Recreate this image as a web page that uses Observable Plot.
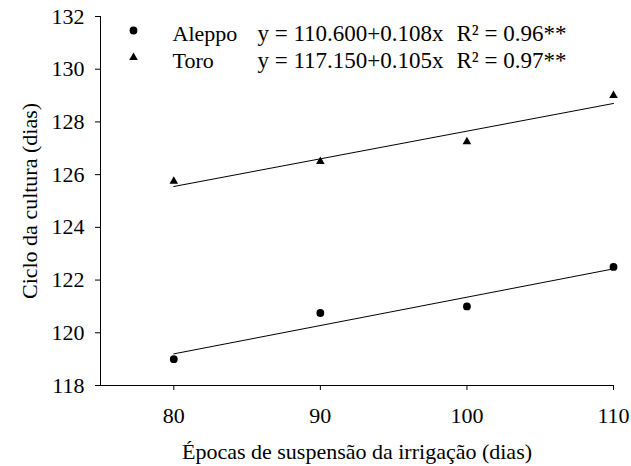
<!DOCTYPE html>
<html><head><meta charset="utf-8">
<script src="https://cdn.jsdelivr.net/npm/d3@7"></script>
<script src="https://cdn.jsdelivr.net/npm/@observablehq/plot@0.6"></script>
<style>
body{margin:0;background:#fff}
</style>
</head><body><div id="chart"></div>
<script>
const epocas = [80, 90, 100, 110];
const aleppo = [119.0, 120.75, 121.0, 122.5];
const toro = [125.75, 126.5, 127.25, 129.0];
const cultivares = ["Aleppo", "Toro"];
const equacoes = ["y = 110.600+0.108x", "y = 117.150+0.105x"];
const r2Labels = ["R² = 0.96**", "R² = 0.97**"];
const xTicks = [80, 90, 100, 110];
const yTicks = [118, 120, 122, 124, 126, 128, 130, 132];
const xLabel = "Épocas de suspensão da irrigação (dias)";
const yLabel = "Ciclo da cultura (dias)";

const data = [
  ...epocas.map((x, i) => ({cultivar: "Aleppo", x, y: aleppo[i]})),
  ...epocas.map((x, i) => ({cultivar: "Toro", x, y: toro[i]}))
];
const legend = cultivares.map((c, i) => ({cultivar: c, eq: equacoes[i], r2: r2Labels[i]}));
const FS = 22;
const FF = "Liberation Serif";
const sizes = {Aleppo: 3.9, Toro: 3.2};

const legendMarks = legend.flatMap((d, i) => [
  Plot.dot([d], {frameAnchor: "top-left", dx: 33, dy: 14 + 27 * i, symbol: "cultivar", r: sizes[d.cultivar], fill: "black", stroke: "none"}),
  Plot.text([d], {frameAnchor: "top-left", dx: 72, dy: 17 + 27 * i, text: "cultivar", textAnchor: "start", lineAnchor: "middle", fontSize: FS, fontFamily: FF, fill: "black"}),
  Plot.text([d], {frameAnchor: "top-left", dx: 250, dy: 17 + 27 * i, text: "eq", textAnchor: "middle", lineAnchor: "middle", fontSize: 23, fontFamily: FF, fill: "black"}),
  Plot.text([d], {frameAnchor: "top-left", dx: 411, dy: 17 + 27 * i, text: "r2", textAnchor: "middle", lineAnchor: "middle", fontSize: 23, fontFamily: FF, fill: "black"})
]);

const chart = Plot.plot({
  width: 631,
  height: 466,
  marginLeft: 100,
  marginRight: 18,
  marginTop: 16,
  marginBottom: 81,
  style: {fontFamily: FF, fontSize: FS + "px", color: "black", background: "white"},
  x: {domain: [75, 110]},
  y: {domain: [118, 132]},
  symbol: {domain: cultivares, range: ["circle", "triangle"]},
  marks: [
    Plot.ruleX([75], {stroke: "black", strokeWidth: 1}),
    Plot.ruleY([118], {stroke: "black", strokeWidth: 1}),
    Plot.axisX({ticks: xTicks, tickSize: 5, tickPadding: 17, fontSize: FS, fontFamily: FF, label: null, stroke: "black", fill: "black"}),
    Plot.axisY({ticks: yTicks, tickSize: 5, tickPadding: 11, fontSize: FS, fontFamily: FF, label: null, stroke: "black", fill: "black"}),
    Plot.linearRegressionY(data, {x: "x", y: "y", z: "cultivar", stroke: "black", strokeWidth: 1, ci: 0}),
    ...cultivares.map(c => Plot.dot(data.filter(d => d.cultivar === c), {x: "x", y: "y", symbol: "cultivar", r: sizes[c], fill: "black", stroke: "none"})),
    ...legendMarks,
    Plot.text([xLabel], {frameAnchor: "bottom", dy: 66, text: d => d, textAnchor: "middle", lineAnchor: "middle", fontSize: FS, fontFamily: FF, fill: "black"}),
    Plot.text([yLabel], {frameAnchor: "left", dx: -71, rotate: -90, text: d => d, textAnchor: "middle", lineAnchor: "middle", fontSize: FS, fontFamily: FF, fill: "black"})
  ]
});
document.getElementById("chart").append(chart);
</script>
</body></html>
